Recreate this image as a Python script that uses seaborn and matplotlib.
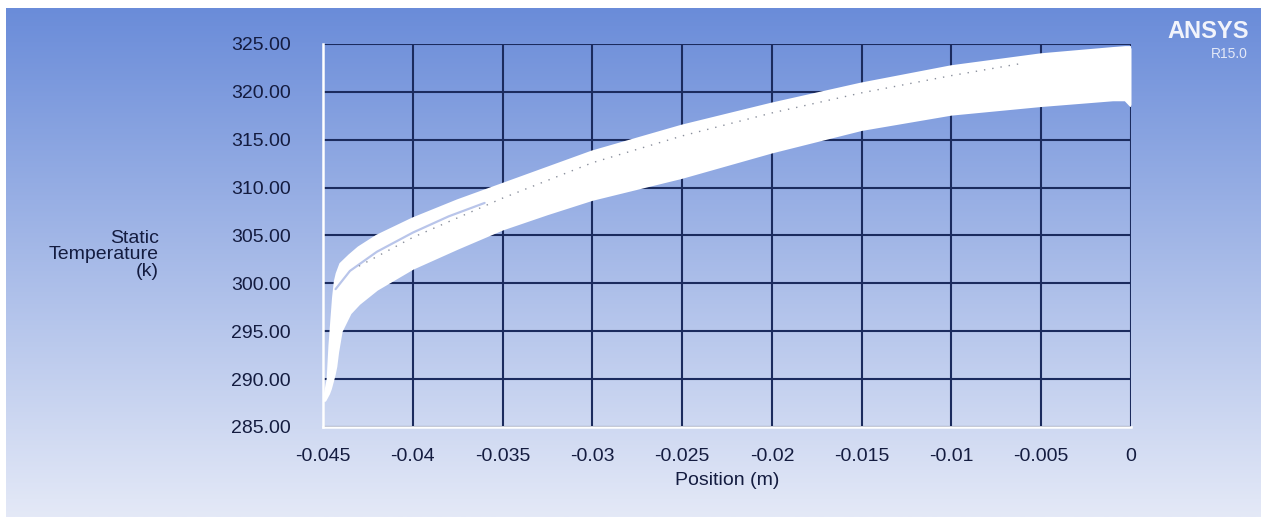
import numpy as np
import pandas as pd
import matplotlib
matplotlib.use("Agg")
import matplotlib.pyplot as plt
import seaborn as sns
from matplotlib.colors import LinearSegmentedColormap
from matplotlib.ticker import MultipleLocator

# Band of static temperature curves (envelope)
position = [-0.0449, -0.0447, -0.0446, -0.0445, -0.0444, -0.0443, -0.0442, -0.044, -0.0435,
            -0.043, -0.042, -0.04, -0.0375, -0.035, -0.0325, -0.03, -0.025, -0.02,
            -0.015, -0.01, -0.005, -0.001, -0.0003, 0.0]
temp_upper = [288.0, 290.0, 293.5, 296.0, 298.5, 300.2, 301.0, 302.0, 302.9,
              303.7, 304.9, 306.7, 308.6, 310.3, 312.0, 313.7, 316.4, 318.7,
              320.8, 322.6, 323.85, 324.5, 324.6, 324.6]
temp_lower = [287.8, 288.5, 289.0, 289.7, 290.4, 291.3, 292.8, 295.0, 296.9,
              297.9, 299.4, 301.6, 303.7, 305.7, 307.3, 308.8, 311.1, 313.75,
              316.1, 317.7, 318.6, 319.2, 319.2, 318.6]

# thin gap between the outer curve and the main band near the inlet
gap_pos = [-0.0443, -0.0435, -0.042, -0.04, -0.038, -0.036]
gap_temp = [299.4, 301.3, 303.3, 305.3, 307.0, 308.4]

# dotted curve inside the band
dot_pos = [-0.043, -0.04, -0.035, -0.03, -0.025, -0.02, -0.015, -0.01, -0.006]
dot_temp = [301.8, 304.8, 308.9, 312.6, 315.4, 317.8, 319.9, 321.7, 323.0]

xticks = [-0.045, -0.04, -0.035, -0.03, -0.025, -0.02, -0.015, -0.01, -0.005, 0]
xtick_labels = ["-0.045", "-0.04", "-0.035", "-0.03", "-0.025", "-0.02", "-0.015", "-0.01", "-0.005", "0"]
yticks = [285, 290, 295, 300, 305, 310, 315, 320, 325]

sns.set_theme(style="white")
plt.rcParams["font.family"] = ["Liberation Sans", "DejaVu Sans"]

W, H = 1261, 517
fig = plt.figure(figsize=(W / 100, H / 100), dpi=100)
fig.patch.set_facecolor("white")

# gradient background (white strip at top and left)
bg = fig.add_axes([6 / W, 0, 1 - 6 / W, 1 - 8 / H], zorder=0)
cmap = LinearSegmentedColormap.from_list("ansys", ["#6a8cd9", "#e4e9f7"])
bg.imshow(np.linspace(0, 1, 256).reshape(-1, 1), aspect="auto", cmap=cmap,
          extent=[0, 1, 0, 1], origin="upper")
bg.axis("off")

ax = fig.add_axes([323 / W, 1 - 427 / H, (1131 - 323) / W, (427 - 44) / H], zorder=1)
ax.patch.set_alpha(0)

df = pd.DataFrame({"position": position, "upper": temp_upper, "lower": temp_lower})
ax.fill_between(df["position"], df["lower"], df["upper"], color="white", lw=0, zorder=3)
sns.lineplot(data=df, x="position", y="upper", color="white", lw=2.5, ax=ax, zorder=4)
sns.lineplot(data=df, x="position", y="lower", color="white", lw=2.5, ax=ax, zorder=4)
sns.lineplot(x=gap_pos, y=gap_temp, color="#b9c5ea", lw=1.6, ax=ax, zorder=5)
sns.lineplot(x=dot_pos, y=dot_temp, color="#8a8f9c", lw=1.0, ls=(0, (1, 5)), ax=ax, zorder=5)

ax.set_xlim(-0.045, 0)
ax.set_ylim(285, 325)
ax.set_xticks(xticks)
ax.set_xticklabels(xtick_labels)
ax.set_yticks(yticks)
ax.set_yticklabels([f"{v:.2f}" for v in yticks])
ax.yaxis.set_minor_locator(MultipleLocator(2.5))

ax.grid(True, which="major", color="#1b2b5e", lw=1.5, zorder=1)
ax.set_axisbelow(True)
for s in ["top", "right"]:
    ax.spines[s].set_visible(False)
for s in ["left", "bottom"]:
    ax.spines[s].set_color("white")
    ax.spines[s].set_linewidth(1.8)
    ax.spines[s].set_zorder(6)

ax.tick_params(axis="both", which="major", direction="out", width=1.5,
               color="white", labelsize=14, labelcolor="#141c40")
ax.tick_params(axis="y", which="major", length=9, pad=14)
ax.tick_params(axis="y", which="minor", direction="out", length=4, width=1.2, color="white")
ax.tick_params(axis="x", which="major", length=5, pad=10)

ax.set_xlabel("Position (m)", fontsize=14, color="#141c40", labelpad=5)
ax.set_ylabel("Static\nTemperature\n(k)", fontsize=14, color="#141c40",
              rotation=0, ha="right", va="center", linespacing=0.95)
ax.yaxis.set_label_coords(-0.203, 0.45)

fig.text(1249 / W, 1 - 32 / H, "ANSYS", fontsize=17, fontweight="bold", color="#f2f4fb",
         ha="right", va="center")
fig.text(1248 / W, 1 - 54 / H, "R15.0", fontsize=10, color="#e4e9f7", ha="right", va="center")

fig.savefig("out.png", dpi=100)
